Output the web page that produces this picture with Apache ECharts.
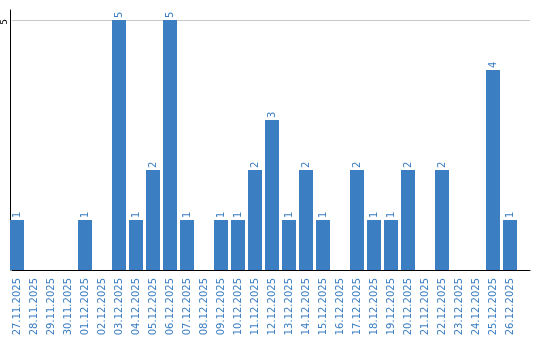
<!DOCTYPE html>
<html><head><meta charset="utf-8">
<script src="https://cdn.jsdelivr.net/npm/echarts@6/dist/echarts.min.js"></script>
<style>html,body{margin:0;padding:0;background:#fff}#c{width:540px;height:340px}</style>
</head><body><div id="c"></div>
<script>
var categories = ['27.11.2025','28.11.2025','29.11.2025','30.11.2025','01.12.2025','02.12.2025','03.12.2025','04.12.2025','05.12.2025','06.12.2025','07.12.2025','08.12.2025','09.12.2025','10.12.2025','11.12.2025','12.12.2025','13.12.2025','14.12.2025','15.12.2025','16.12.2025','17.12.2025','18.12.2025','19.12.2025','20.12.2025','21.12.2025','22.12.2025','23.12.2025','24.12.2025','25.12.2025','26.12.2025'];
var values = [1,0,0,0,1,0,5,1,2,5,1,0,1,1,2,3,1,2,1,0,2,1,1,2,0,2,0,0,4,1];
var yMax = 5.2;
var yTickMax = 5;
var blue = '#3b7ec2';
var font = 'DejaVu Sans';
var chart = echarts.init(document.getElementById('c'));
chart.setOption({
  animation: false,
  grid: [
    {left: 8.5, right: 21.5, top: 10, bottom: 70},
    {left: 10, right: 10, top: 20, bottom: 70}
  ],
  xAxis: [
    {type: 'category', gridIndex: 0, data: categories, boundaryGap: true,
     axisLine: {show: false}, axisTick: {show: false},
     axisLabel: {rotate: 90, interval: 0, color: blue, fontFamily: font, fontSize: 10, margin: 8}},
    {type: 'value', gridIndex: 1, min: 0, max: 1,
     axisLine: {show: true, onZero: false, lineStyle: {color: '#000', width: 1}},
     axisTick: {show: false}, axisLabel: {show: false}, splitLine: {show: false}}
  ],
  yAxis: [
    {type: 'value', gridIndex: 0, min: 0, max: yMax, offset: -1.5,
     axisLine: {show: true, lineStyle: {color: '#000', width: 1}},
     axisTick: {show: false}, axisLabel: {show: false}, splitLine: {show: false}},
    {type: 'value', gridIndex: 1, min: 0, max: yTickMax, interval: yTickMax,
     axisLine: {show: false},
     axisTick: {show: false},
     axisLabel: {rotate: 90, showMinLabel: false, color: '#000', fontFamily: font, fontSize: 9, margin: 3,
       padding: [0, 4, 0, 0]},
     splitLine: {show: true, lineStyle: {color: '#c8c8c8', width: 1}}}
  ],
  series: [{
    type: 'bar', xAxisIndex: 0, yAxisIndex: 0, data: values, barWidth: 14,
    itemStyle: {color: blue},
    label: {show: true, position: 'top', rotate: 90, align: 'left', verticalAlign: 'middle', distance: 2,
      color: blue, fontFamily: font, fontSize: 10,
      formatter: function(p){ return p.value > 0 ? String(p.value) : ''; }}
  }]
});
</script></body></html>
